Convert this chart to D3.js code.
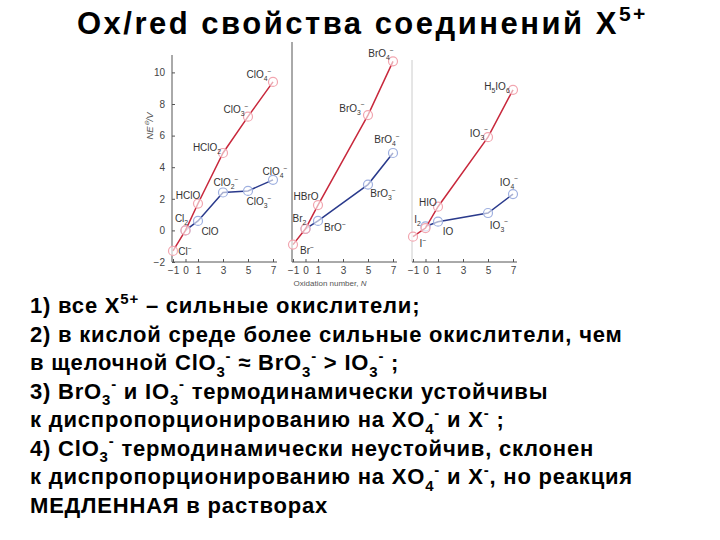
<!DOCTYPE html>
<html><head><meta charset="utf-8">
<script src="https://cdn.jsdelivr.net/npm/d3@7"></script>
<style>body{margin:0;background:#fff}svg{display:block}</style>
</head><body>
<svg id="c" width="720" height="540"></svg>
<script>
// ---------- data ----------
const xTicks = [-1, 0, 1, 3, 5, 7];
const yTicks = [10, 8, 6, 4, 2, 0, -2];

const clAcidN = [-1, 0, 1, 3, 5, 7];
const clAcidE = [-1.3, 0, 1.7, 4.9, 7.2, 9.4];
const clAcidLabels = ["Cl^{−}", "Cl_{2}", "HClO", "HClO_{2}", "ClO_{3}^{−}", "ClO_{4}^{−}"];
const clBaseN = [0, 1, 3, 5, 7];
const clBaseE = [0, 0.6, 2.4, 2.5, 3.2];
const clBaseLabels = [null, "ClO", "ClO_{2}^{−}", "ClO_{3}^{−}", "ClO_{4}^{−}"];

const brAcidN = [-1, 0, 1, 5, 7];
const brAcidE = [-0.9, 0.1, 1.6, 7.3, 10.7];
const brAcidLabels = ["Br^{−}", "Br_{2}", "HBrO", "BrO_{3}^{−}", "BrO_{4}^{−}"];
const brBaseN = [0, 1, 5, 7];
const brBaseE = [0.1, 0.6, 2.9, 4.9];
const brBaseLabels = [null, "BrO^{−}", "BrO_{3}^{−}", "BrO_{4}^{−}"];

const iAcidN = [-1, 0, 1, 5, 7];
const iAcidE = [-0.4, 0.15, 1.5, 5.9, 8.9];
const iAcidLabels = ["I^{−}", "I_{2}", "HIO", "IO_{3}^{−}", "H_{5}IO_{6}"];
const iBaseN = [0, 1, 5, 7];
const iBaseE = [0.25, 0.55, 1.1, 2.3];
const iBaseLabels = [null, "IO", "IO_{3}^{−}", "IO_{4}^{−}"];

const titleText = "Ox/red свойства соединений X^{5+}";
const bodyLines = [
  "1) все X^{5+} – сильные окислители;",
  "2) в кислой среде более сильные окислители, чем",
  "в щелочной ClO_{3}^{-} ≈ BrO_{3}^{-} > IO_{3}^{-} ;",
  "3) BrO_{3}^{-} и IO_{3}^{-} термодинамически устойчивы",
  "к диспропорционированию на XO_{4}^{-} и X^{-} ;",
  "4) ClO_{3}^{-} термодинамически неустойчив, склонен",
  "к диспропорционированию на XO_{4}^{-} и X^{-}, но реакция",
  "МЕДЛЕННАЯ в растворах"
];

// ---------- layout (positions/styles) ----------
const panels = [
  {x0: 173, top: 55, yAxisColor: "#555", showY: true,
   acid: [clAcidN, clAcidE, clAcidLabels], base: [clBaseN, clBaseE, clBaseLabels],
   acidOff: [[12,1],[-4,-12],[-10,-8],[-16,-5],[-12,-7],[-14,-7]],
   baseOff: [null,[12,11],[3,-10],[11,11],[2,-8]]},
  {x0: 293, top: 42, yAxisColor: "#555", showY: false,
   acid: [brAcidN, brAcidE, brAcidLabels], base: [brBaseN, brBaseE, brBaseLabels],
   acidOff: [[14,6],[-6,-10],[-12,-9],[-16,-7],[-12,-8]],
   baseOff: [null,[17,7],[15,9],[-6,-13]]},
  {x0: 413, top: 60, yAxisColor: "#ccc", showY: false,
   acid: [iAcidN, iAcidE, iAcidLabels], base: [iBaseN, iBaseE, iBaseLabels],
   acidOff: [[10,7],[-8,-9],[-10,-4],[-9,-4],[-16,-3]],
   baseOff: [null,[10,10],[11,12],[-4,-12]]}
];
const RED = "#c8283c", BLUE = "#2a3a8c";

const svg = d3.select("#c");
const y = d3.scaleLinear().domain([-2, 10]).range([262, 72.4]);

function rich(sel, str, size) {
  const parts = str.split(/(_\{[^}]*\}|\^\{[^}]*\})/).filter(s => s !== "");
  let shift = 0;
  parts.forEach(p => {
    let t = p, target = 0, fs = size;
    if (p.startsWith("_{")) { t = p.slice(2, -1); target = size * 0.3; fs = size * 0.68; }
    else if (p.startsWith("^{")) { t = p.slice(2, -1); target = -size * 0.42; fs = size * 0.68; }
    sel.append("tspan").attr("dy", target - shift).attr("font-size", fs).text(t);
    shift = target;
  });
}

panels.forEach((p, i) => {
  const x = d3.scaleLinear().domain([-1, 7]).range([p.x0, p.x0 + 100]);
  const g = svg.append("g");
  const axX = p.x0 - 1;
  g.append("line").attr("x1", axX).attr("x2", axX).attr("y1", p.top).attr("y2", y(-2))
    .attr("stroke", p.yAxisColor).attr("stroke-width", 1);
  if (p.showY) {
    const ya = d3.axisRight(y).tickValues(yTicks).tickSize(3).tickFormat(d => d < 0 ? "−" + Math.abs(d) : d);
    const ag = g.append("g").attr("transform", `translate(${axX},0)`).call(ya);
    ag.select(".domain").remove();
    ag.selectAll("line").attr("stroke", "#555");
    ag.selectAll("text").attr("x", -7).attr("text-anchor", "end")
      .attr("font-family", "Liberation Sans, Arial, sans-serif").attr("font-size", 10).attr("fill", "#444");
    const yl = g.append("text").attr("transform", "translate(153,126) rotate(-90)")
      .attr("text-anchor", "middle").attr("font-family", "Liberation Sans, Arial, sans-serif")
      .attr("font-size", 9.5).attr("fill", "#555").attr("font-style", "italic");
    rich(yl, "NE^{⊖}/V", 9.5);
  }
  const xa = d3.axisBottom(x).tickValues(xTicks).tickSize(-3)
    .tickFormat(d => d < 0 ? "−" + Math.abs(d) : d);
  const xg = g.append("g").attr("transform", `translate(0,${y(-2)})`).call(xa);
  xg.select(".domain").attr("stroke", "#555").attr("d", `M${axX},0H${p.x0 + 104}`);
  xg.selectAll("line").attr("stroke", "#555");
  xg.selectAll("text").attr("y", 5).attr("font-family", "Liberation Sans, Arial, sans-serif")
    .attr("font-size", 10).attr("fill", "#444");

  const series = [
    {d: p.base, off: p.baseOff, line: BLUE, mark: "#9fb0e0"},
    {d: p.acid, off: p.acidOff, line: RED, mark: "#f2a6b0"}
  ];
  series.forEach(s => {
    const pts = s.d[0].map((n, k) => ({n, e: s.d[1][k], lab: s.d[2][k], off: s.off[k]}));
    g.append("path").datum(pts)
      .attr("d", d3.line().x(d => x(d.n)).y(d => y(d.e)))
      .attr("fill", "none").attr("stroke", s.line).attr("stroke-width", 1.5);
    g.selectAll(null).data(pts).enter().append("circle")
      .attr("cx", d => x(d.n)).attr("cy", d => y(d.e)).attr("r", 4.5)
      .attr("fill", "rgba(255,255,255,0.6)").attr("stroke", s.mark).attr("stroke-width", 1.2);
    pts.filter(d => d.lab).forEach(d => {
      const t = g.append("text").attr("x", x(d.n) + d.off[0]).attr("y", y(d.e) + d.off[1] + 3.5)
        .attr("text-anchor", "middle").attr("font-family", "Liberation Sans, Arial, sans-serif")
        .attr("font-size", 10).attr("fill", "#333");
      rich(t, d.lab, 10);
    });
  });
});

svg.append("text").attr("x", 330).attr("y", 286).attr("text-anchor", "middle")
  .attr("font-family", "Liberation Sans, Arial, sans-serif").attr("font-size", 8).attr("fill", "#555")
  .text("Oxidation number, ").append("tspan").attr("font-style", "italic").text("N");

// title
const tt = svg.append("text").attr("x", 77).attr("y", 34)
  .attr("font-family", "Liberation Sans, Arial, sans-serif").attr("font-weight", "bold")
  .attr("font-size", 31).attr("letter-spacing", 2.5).attr("fill", "#000");
rich(tt, titleText, 31);

// body
bodyLines.forEach((l, i) => {
  const t = svg.append("text").attr("x", 30).attr("y", 313 + i * 28.5)
    .attr("font-family", "Liberation Sans, Arial, sans-serif").attr("font-weight", "bold")
    .attr("font-size", 22).attr("letter-spacing", 0.8).attr("fill", "#000");
  rich(t, l, 22);
});
</script>
</body></html>
